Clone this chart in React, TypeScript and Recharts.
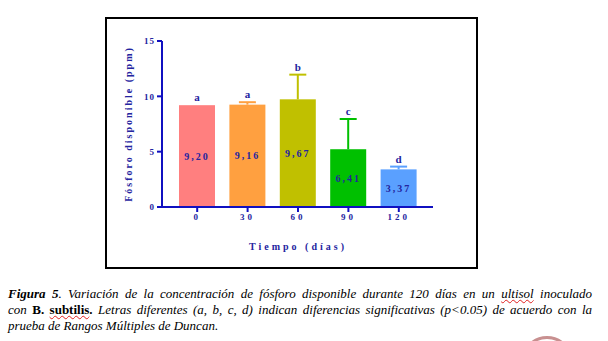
import React from "react";
import { BarChart, Bar, XAxis, YAxis, LabelList } from "recharts";

// días de muestreo
const dias = ["0", "30", "60", "90", "120"];
// fósforo disponible (ppm), medias
const fosforo = [9.2, 9.25, 9.73, 5.22, 3.4];
// barra de error, solo hacia arriba
const errorSup = [0, 0.22, 2.23, 2.73, 0.25];
const etiquetas = ["9,20", "9,16", "9,67", "6,41", "3,37"];
const letras = ["a", "a", "b", "c", "d"];
const colores = ["#FF7F7F", "#FFA040", "#C0C000", "#00C000", "#5AA0FF"];
const yTicks = [0, 5, 10, 15];

const data = dias.map((d, i) => ({
  dia: d,
  valor: fosforo[i],
  err: errorSup[i],
  etiqueta: etiquetas[i],
  letra: letras[i],
}));

const AZUL = "#1010C0";
const TEXTO = "#2424A0";
const serif = "Liberation Serif, DejaVu Serif, serif";

function BarraConError(props: any) {
  const { x, y, width, height, index, payload } = props;
  const k = payload.valor ? height / payload.valor : 0;
  const cx = x + width / 2;
  const top = y - payload.err * k;
  const col = colores[index];
  return (
    <g>
      <rect x={x} y={y} width={width} height={height} fill={col} />
      {payload.err > 0 && (
        <g>
          <line x1={cx} x2={cx} y1={y} y2={top} stroke={col} strokeWidth={2} />
          <line x1={cx - 8.5} x2={cx + 8.5} y1={top} y2={top} stroke={col} strokeWidth={2} />
        </g>
      )}
      <text
        x={cx}
        y={top - 4}
        textAnchor="middle"
        fill={TEXTO}
        fontFamily={serif}
        fontWeight="bold"
        fontSize={11}
      >
        {payload.letra}
      </text>
    </g>
  );
}

const wavy = {
  textDecoration: "underline wavy #E02020",
  textDecorationThickness: "1px",
};

export default function App() {
  return (
    <div
      style={{
        position: "absolute",
        left: 0,
        top: 0,
        width: 608,
        height: 341,
        background: "#fff",
        overflow: "hidden",
        fontFamily: serif,
      }}
    >
      <div
        style={{
          position: "absolute",
          left: 105,
          top: 17,
          width: 369,
          height: 248,
          border: "2px solid #000",
        }}
      />
      <div style={{ position: "absolute", left: 106, top: 18 }}>
        <BarChart
          width={370}
          height={249}
          data={data}
          margin={{ top: 23, right: 43, left: 0, bottom: 0 }}
          barCategoryGap={0}
        >
          <XAxis
            dataKey="dia"
            height={60}
            padding={{ left: 10, right: 9 }}
            axisLine={{ stroke: AZUL, strokeWidth: 2 }}
            tickLine={{ stroke: AZUL, strokeWidth: 2 }}
            tickSize={5}
            tick={{ fill: TEXTO, fontSize: 9, fontWeight: "bold", fontFamily: serif, letterSpacing: 3 }}
          />
          <YAxis
            width={56}
            domain={[0, 15]}
            ticks={yTicks}
            axisLine={{ stroke: AZUL, strokeWidth: 2 }}
            tickLine={{ stroke: AZUL, strokeWidth: 2 }}
            tickSize={5}
            tick={{ fill: TEXTO, fontSize: 9, fontWeight: "bold", fontFamily: serif, letterSpacing: 1 }}
          />
          <Bar dataKey="valor" barSize={36} shape={BarraConError} isAnimationActive={false}>
            <LabelList
              dataKey="etiqueta"
              position="center"
              fill={TEXTO}
              fontSize={10}
              fontWeight="bold"
              fontFamily={serif}
              letterSpacing={2}
            />
          </Bar>
        </BarChart>
      </div>
      <div
        style={{
          position: "absolute",
          left: 29,
          top: 117,
          width: 200,
          textAlign: "center",
          transform: "rotate(-90deg)",
          color: TEXTO,
          fontWeight: "bold",
          fontSize: 10,
          letterSpacing: 2,
          lineHeight: "14px",
        }}
      >
        Fósforo disponible (ppm)
      </div>
      <div
        style={{
          position: "absolute",
          left: 198,
          top: 240,
          width: 200,
          textAlign: "center",
          color: TEXTO,
          fontWeight: "bold",
          fontSize: 10,
          letterSpacing: 3,
          lineHeight: "14px",
        }}
      >
        Tiempo (días)
      </div>
      <div
        style={{
          position: "absolute",
          left: 8,
          top: 286,
          width: 584,
          fontStyle: "italic",
          fontSize: 13,
          lineHeight: "16px",
          color: "#000",
        }}
      >
        <div style={{ textAlign: "justify", textAlignLast: "justify" }}>
          <b>Figura 5</b>. Variación de la concentración de fósforo disponible durante 120 días en un{" "}
          <span style={wavy}>ultisol</span> inoculado
        </div>
        <div style={{ textAlign: "justify", textAlignLast: "justify" }}>
          con <b style={{ fontStyle: "normal" }}>B. <span style={wavy}>subtilis</span>.</b> Letras diferentes (a, b, c, d)
          indican diferencias significativas (p&lt;0.05) de acuerdo con la
        </div>
        <div>prueba de Rangos Múltiples de Duncan.</div>
      </div>
      <div
        style={{
          position: "absolute",
          left: 521,
          top: 336,
          width: 46,
          height: 46,
          borderRadius: "50%",
          border: "3px solid #C89090",
        }}
      />
    </div>
  );
}
